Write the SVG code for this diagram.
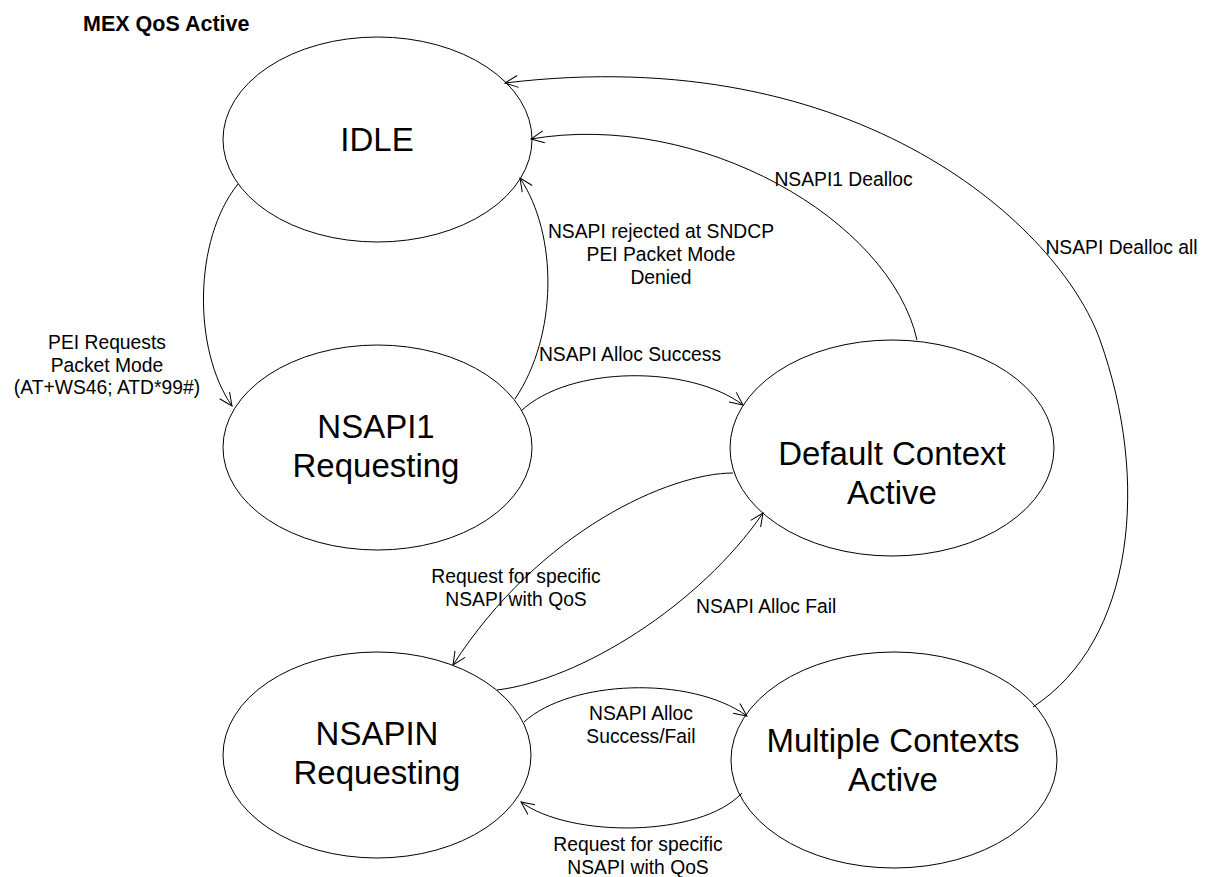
<svg xmlns="http://www.w3.org/2000/svg" width="1205" height="877" viewBox="0 0 1205 877">
<style>
.state{fill:#fff;stroke:#000;stroke-width:1}
.st{font-family:"Liberation Sans",Arial,sans-serif;font-size:33px;fill:#000;text-anchor:middle}
.lb{font-family:"Liberation Sans",Arial,sans-serif;font-size:19.3px;fill:#000;text-anchor:middle}
.edge{fill:none;stroke:#000;stroke-width:1;marker-end:url(#arr)}
.title{font-family:"Liberation Sans",Arial,sans-serif;font-size:21.5px;font-weight:bold;fill:#000}
</style>
<defs>
<marker id="arr" viewBox="-1 -8 16 16" refX="13" refY="0" markerWidth="16" markerHeight="16" markerUnits="userSpaceOnUse" orient="auto">
<path d="M0,-6 L13,0 L0,6" fill="none" stroke="#000" stroke-width="1"/>
</marker>
</defs>
<rect width="1205" height="877" fill="#fff"/>
<text class="title" x="83" y="31">MEX QoS Active</text>

<g id="idle"><ellipse class="state" cx="377.5" cy="139.5" rx="154.5" ry="102.5"/><text class="st" x="377" y="151">IDLE</text></g>
<g id="nsapi1"><ellipse class="state" cx="377.5" cy="447.5" rx="154.5" ry="102.5"/><text class="st" x="376" y="438">NSAPI1</text><text class="st" x="376" y="477">Requesting</text></g>
<g id="default"><ellipse class="state" cx="892" cy="448" rx="162" ry="108"/><text class="st" x="892" y="465">Default Context</text><text class="st" x="892" y="504">Active</text></g>
<g id="nsapin"><ellipse class="state" cx="377" cy="755" rx="154" ry="103"/><text class="st" x="377" y="745">NSAPIN</text><text class="st" x="377" y="784">Requesting</text></g>
<g id="multiple"><ellipse class="state" cx="894" cy="760" rx="163" ry="108"/><text class="st" x="893" y="752">Multiple Contexts</text><text class="st" x="893" y="791">Active</text></g>

<g id="connectors">
<path class="edge" d="M238,184 C193,240 193,350 232,406"/>
<path class="edge" d="M515,399 C558,335 558,235 520,178"/>
<path class="edge" d="M521,411 C570,365 690,365 743,405"/>
<path class="edge" d="M917,340 C890,220 700,110 531,139"/>
<path class="edge" d="M1033,707 C1135,640 1150,480 1100,340 C1060,228 860,40 505,83"/>
<path class="edge" d="M733,473 C670,473 540,530 453,665"/>
<path class="edge" d="M497,690 C580,680 700,605 763,513"/>
<path class="edge" d="M524,722 C570,680 690,675 747,716"/>
<path class="edge" d="M742,793 C700,838 570,838 521,802"/>
</g>

<g id="labels">
<text class="lb" x="107" y="349">PEI Requests</text>
<text class="lb" x="107" y="371.5">Packet Mode</text>
<text class="lb" x="107" y="394">(AT+WS46; ATD*99#)</text>
<text class="lb" x="661" y="238">NSAPI rejected at SNDCP</text>
<text class="lb" x="661" y="261">PEI Packet Mode</text>
<text class="lb" x="661" y="283.5">Denied</text>
<text class="lb" x="630" y="361">NSAPI Alloc Success</text>
<text class="lb" x="843.5" y="186">NSAPI1 Dealloc</text>
<text class="lb" x="1121.5" y="254">NSAPI Dealloc all</text>
<text class="lb" x="516" y="583">Request for specific</text>
<text class="lb" x="516" y="606">NSAPI with QoS</text>
<text class="lb" x="696" y="613" style="text-anchor:start">NSAPI Alloc Fail</text>
<text class="lb" x="641" y="720">NSAPI Alloc</text>
<text class="lb" x="641" y="742.5">Success/Fail</text>
<text class="lb" x="638" y="851">Request for specific</text>
<text class="lb" x="638" y="873.5">NSAPI with QoS</text>
</g>
</svg>
